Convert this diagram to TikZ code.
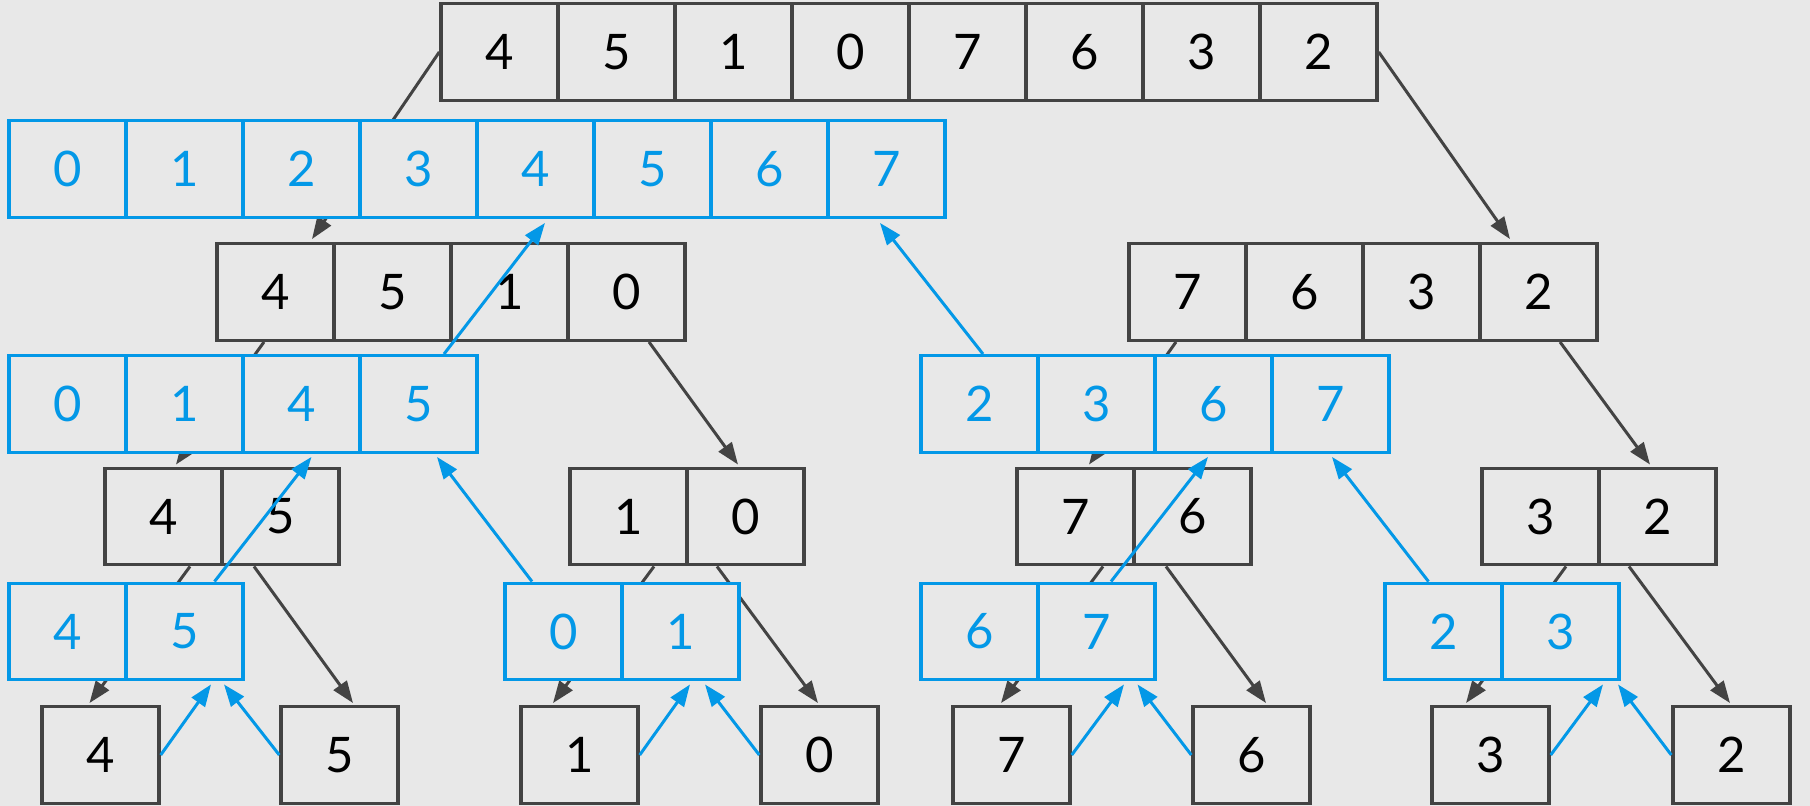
\documentclass[tikz,border=0pt]{standalone}
\usepackage{fontspec}
\setmainfont{Lato}
\usetikzlibrary{arrows.meta,calc}
\definecolor{bg}{HTML}{E8E8E8}
\definecolor{dk}{HTML}{434343}
\definecolor{bl}{HTML}{0398E7}
\newcommand{\cellrow}[5]{\foreach \v [count=\i] in {#5} {\node[#2] (#1\i) at ({#3+(\i-0.5)*117},#4) {\v};}}
\begin{document}
\begin{tikzpicture}[x=0.5pt,y=-0.5pt,
  gcell/.style={draw=dk,line width=1.7pt,fill=bg,minimum width=58.5pt,minimum height=48.25pt,inner sep=0pt,font=\fontsize{24.5}{28}\selectfont,text=black},
  bcell/.style={gcell,draw=bl,text=bl},
  garr/.style={draw=dk,line width=1.5pt,-{Triangle[length=11pt,width=8pt]}},
  barr/.style={draw=bl,line width=1.5pt,-{Triangle[length=11pt,width=8pt]}}]
\fill[bg] (0,0) rectangle (1810,806);
% gray arrays
\cellrow{top}{gcell}{441}{52}{4,5,1,0,7,6,3,2}
\cellrow{r2a}{gcell}{217}{292}{4,5,1,0}
\cellrow{r2b}{gcell}{1129}{292}{7,6,3,2}
\cellrow{r3a}{gcell}{105}{516.5}{4,5}
\cellrow{r3b}{gcell}{570}{516.5}{1,0}
\cellrow{r3c}{gcell}{1017}{516.5}{7,6}
\cellrow{r3d}{gcell}{1482}{516.5}{3,2}
\node[gcell] (l1) at (100.5,755) {4};
\node[gcell] (l2) at (339.5,755) {5};
\node[gcell] (l3) at (579.5,755) {1};
\node[gcell] (l4) at (819.5,755) {0};
\node[gcell] (l5) at (1011.5,755) {7};
\node[gcell] (l6) at (1251.5,755) {6};
\node[gcell] (l7) at (1490.5,755) {3};
\node[gcell] (l8) at (1731.5,755) {2};
% gray connectors
\draw[garr] (top1.west) -- ($(r2a1.north)+(36.5,-3)$);
\draw[garr] (top8.east) -- ($(r2b4.north)+(-28.5,-3)$);
\draw[garr] ($(r2a1.south)+(-11.5,0)$) -- ($(r3a1.north)+(12.5,-2)$);
\draw[garr] ($(r2a4.south)+(22.5,0)$) -- ($(r3b2.north)+(-7.5,-2)$);
\draw[garr] ($(r2b1.south)+(-11.5,0)$) -- ($(r3c1.north)+(13.5,-2)$);
\draw[garr] ($(r2b4.south)+(21.5,0)$) -- ($(r3d2.north)+(-7.5,-2)$);
\draw[garr] ($(r3a1.south)+(26.5,0)$) -- ($(l1.north)+(-11,-2)$);
\draw[garr] ($(r3a2.south)+(-26.5,0)$) -- ($(l2.north)+(13.5,-2)$);
\draw[garr] ($(r3b1.south)+(25.5,0)$) -- ($(l3.north)+(-26.5,-2)$);
\draw[garr] ($(r3b2.south)+(-28.5,0)$) -- ($(l4.north)+(-1.5,-2)$);
\draw[garr] ($(r3c1.south)+(27.5,0)$) -- ($(l5.north)+(-10.5,-2)$);
\draw[garr] ($(r3c2.south)+(-26.5,0)$) -- ($(l6.north)+(14.5,-2)$);
\draw[garr] ($(r3d1.south)+(25.5,0)$) -- ($(l7.north)+(-24.5,-2)$);
\draw[garr] ($(r3d2.south)+(-28.5,0)$) -- ($(l8.north)+(-1.5,-2)$);
% blue arrays
\cellrow{ba}{bcell}{9}{169}{0,1,2,3,4,5,6,7}
\cellrow{bba}{bcell}{9}{404}{0,1,4,5}
\cellrow{bbb}{bcell}{921}{404}{2,3,6,7}
\cellrow{bca}{bcell}{9}{631.5}{4,5}
\cellrow{bcb}{bcell}{505}{631.5}{0,1}
\cellrow{bcc}{bcell}{921}{631.5}{6,7}
\cellrow{bcd}{bcell}{1385}{631.5}{2,3}
% blue connectors
\draw[barr] (l1.east) -- ($(bca2.south)+(26.5,3)$);
\draw[barr] (l2.west) -- ($(bca2.south)+(39.5,3)$);
\draw[barr] (l3.east) -- ($(bcb2.south)+(9.5,3)$);
\draw[barr] (l4.west) -- ($(bcb2.south)+(24.5,3)$);
\draw[barr] (l5.east) -- ($(bcc2.south)+(27.5,3)$);
\draw[barr] (l6.west) -- ($(bcc2.south)+(41,3)$);
\draw[barr] (l7.east) -- ($(bcd2.south)+(42.5,3)$);
\draw[barr] (l8.west) -- ($(bcd2.south)+(57.5,3)$);
\draw[barr] ($(bca2.north)+(30,0)$) -- ($(bba3.south)+(10,3)$);
\draw[barr] ($(bcb1.north)+(-31.5,0)$) -- ($(bba4.south)+(18.5,3)$);
\draw[barr] ($(bcc2.north)+(14.5,0)$) -- ($(bbb3.south)+(-5.5,3)$);
\draw[barr] ($(bcd1.north)+(-15,0)$) -- ($(bbb4.south)+(1.5,3)$);
\draw[barr] ($(bba4.north)+(25.5,0)$) -- ($(ba5.south)+(9.5,4)$);
\draw[barr] ($(bbb1.north)+(3.5,0)$) -- ($(ba8.south)+(-6.5,4)$);
\end{tikzpicture}
\end{document}
